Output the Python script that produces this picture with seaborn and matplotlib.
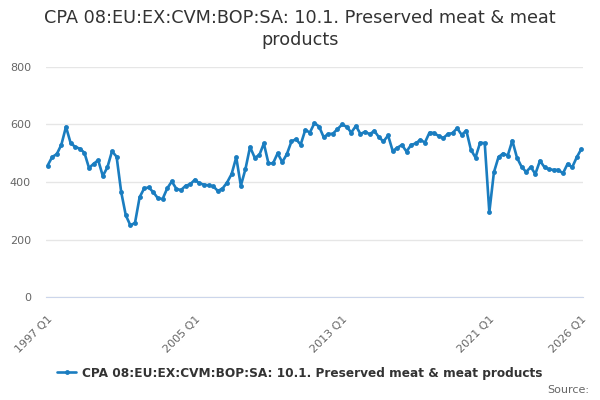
import pandas as pd
import matplotlib
matplotlib.use("Agg")
import matplotlib.pyplot as plt
import seaborn as sns

SERIES = "CPA 08:EU:EX:CVM:BOP:SA: 10.1. Preserved meat & meat products"
START_YEAR = 1997

values = [
    457, 487, 497, 530, 592, 536, 522, 516, 502, 449, 463, 476, 421, 451, 507, 488, 365, 284, 249, 258,
    347, 378, 381, 364, 343, 341, 378, 402, 376, 372, 387, 392, 408, 395, 391, 388, 385, 369, 377, 398,
    428, 486, 387, 445, 522, 485, 493, 534, 465, 465, 500, 469, 497, 541, 549, 530, 581, 572, 605, 593,
    556, 567, 568, 584, 600, 592, 572, 595, 567, 575, 566, 578, 556, 541, 562, 508, 519, 529, 506, 529,
    534, 547, 537, 572, 570, 560, 553, 567, 570, 587, 564, 579, 512, 485, 537, 535, 295, 434, 487, 499,
    492, 544, 485, 453, 435, 452, 428, 474, 451, 444, 442, 442, 430, 463, 451, 486, 515,
]
quarters = [f"{START_YEAR + i // 4} Q{i % 4 + 1}" for i in range(len(values))]
tick_pos = list(range(0, 105, 8)) + [len(values) - 1]
label_pos = [0, 32, 64, 96, len(values) - 1]
y_ticks = [0, 200, 400, 600, 800]


def main():
    df = pd.DataFrame({"pos": range(len(values)), "quarter": quarters, "value": values})

    sns.set_style("white")
    plt.rcParams["font.family"] = ["DejaVu Sans"]

    fig = plt.figure(figsize=(6, 4), dpi=100)
    ax = fig.add_axes([0.077, 0.2575, 0.895, 0.575])

    color = "#1a7dc0"
    sns.lineplot(data=df, x="pos", y="value", ax=ax, color=color, linewidth=1.9,
                 marker="o", markersize=3.5, markeredgewidth=0, label=SERIES, legend=False)

    ax.set_xlim(-0.3, len(values) - 0.6)
    ax.set_ylim(0, 800)
    ax.set_yticks(y_ticks)
    ax.set_yticklabels([str(v) for v in y_ticks], color="#666666", fontsize=8)
    ax.yaxis.grid(True, color="#e6e6e6", linewidth=1)
    ax.tick_params(axis="y", length=0, pad=11)

    ax.set_xticks(tick_pos)
    ax.set_xticklabels([quarters[p] if p in label_pos else "" for p in tick_pos],
                       rotation=45, ha="right", rotation_mode="anchor",
                       color="#666666", fontsize=8)
    ax.tick_params(axis="x", length=10, width=1, color="#ccd6eb", pad=2, direction="out")

    for side in ["top", "right", "left"]:
        ax.spines[side].set_visible(False)
    ax.spines["bottom"].set_color("#ccd6eb")
    ax.set_xlabel("")
    ax.set_ylabel("")

    fig.text(0.5, 0.927, "CPA 08:EU:EX:CVM:BOP:SA: 10.1. Preserved meat & meat\nproducts",
             ha="center", va="center", fontsize=12.7, color="#333333", linespacing=1.25)

    handles, labels = ax.get_legend_handles_labels()
    leg = fig.legend(handles, labels, loc="center", bbox_to_anchor=(0.5, 0.067),
                     frameon=False, handlelength=1.6, handletextpad=0.5,
                     prop={"weight": "bold", "size": 8.7})
    for t in leg.get_texts():
        t.set_color("#333333")

    fig.text(0.982, 0.025, "Source:", ha="right", va="center", color="#666666", fontsize=8)

    fig.savefig("out.png", dpi=100)


if __name__ == "__main__":
    main()
